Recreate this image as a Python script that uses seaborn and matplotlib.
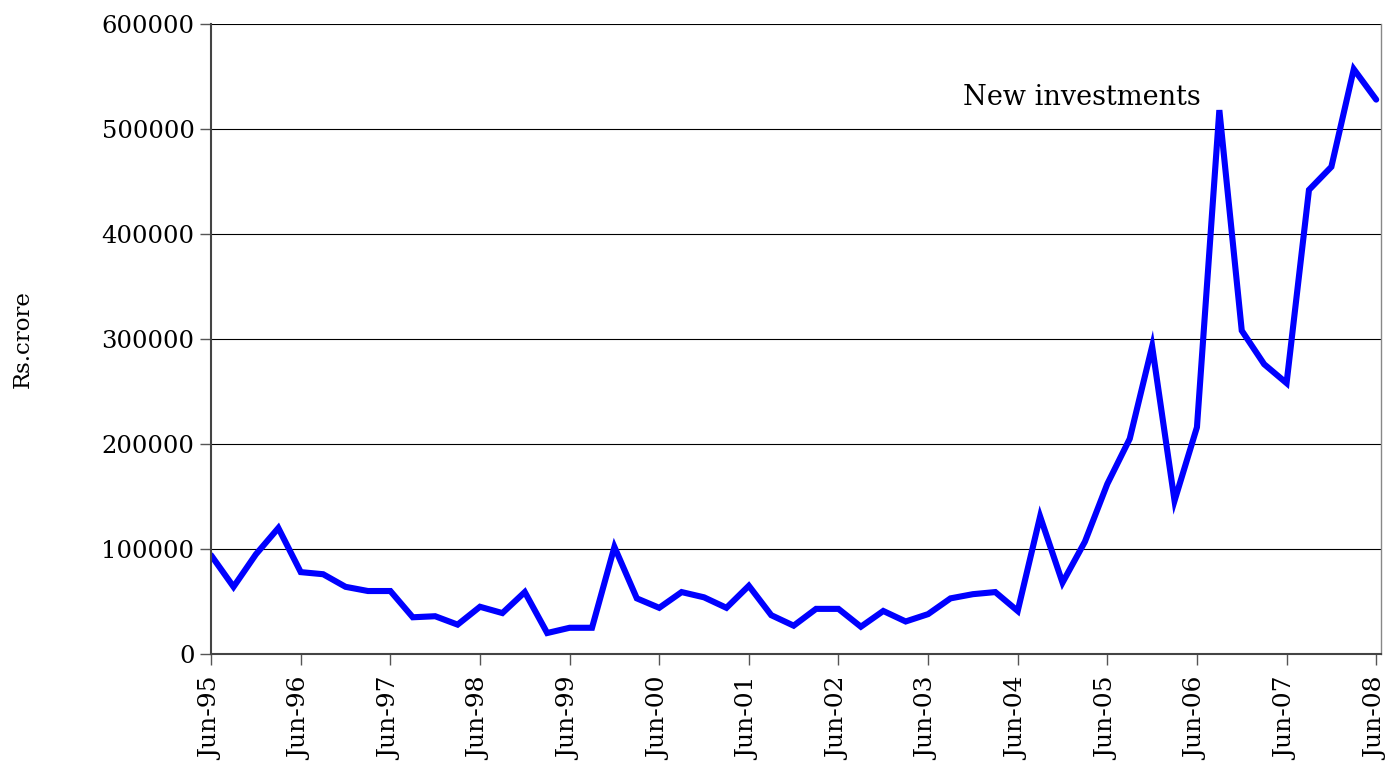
import numpy as np
import pandas as pd
import matplotlib
matplotlib.use("Agg")
import matplotlib.pyplot as plt
import seaborn as sns

# quarterly figures, Jun-95 .. Jun-08 (Rs. crore)
new_investments = [
    94000, 64000, 95000, 120000, 78000, 76000, 64000, 60000, 60000, 35000,
    36000, 28000, 45000, 39000, 59000, 20000, 25000, 25000, 102000, 53000,
    44000, 59000, 54000, 44000, 65000, 37000, 27000, 43000, 43000, 26000,
    41000, 31000, 38000, 53000, 57000, 59000, 41000, 131000, 68000, 107000,
    162000, 205000, 293000, 146000, 216000, 518000, 308000, 276000, 258000, 442000,
    464000, 557000, 528000,
]
year_labels = ["Jun-95", "Jun-96", "Jun-97", "Jun-98", "Jun-99", "Jun-00", "Jun-01",
               "Jun-02", "Jun-03", "Jun-04", "Jun-05", "Jun-06", "Jun-07", "Jun-08"]
y_ticks = [0, 100000, 200000, 300000, 400000, 500000, 600000]

df = pd.DataFrame({"q": np.arange(len(new_investments)), "value": new_investments})

sns.set_theme(style="white")
plt.rcParams["font.family"] = ["DejaVu Serif"]
plt.rcParams["text.color"] = "black"
plt.rcParams["axes.labelcolor"] = "black"
plt.rcParams["xtick.color"] = "black"
plt.rcParams["ytick.color"] = "black"

fig = plt.figure(figsize=(13.89, 7.62), dpi=100)
ax = fig.add_axes([0.152, 0.1417, 0.842, 0.8268])

sns.lineplot(data=df, x="q", y="value", color="#0000FF", linewidth=4.4, ax=ax,
             solid_joinstyle="miter")

ax.set_xlim(0, 52.2)
ax.set_ylim(0, 600000)
ax.set_yticks(y_ticks)
ax.set_yticklabels([str(v) for v in y_ticks], fontsize=17.5)
ax.set_xticks(np.arange(0, 53, 4))
ax.set_xticklabels(year_labels, rotation=90, fontsize=18)
ax.tick_params(axis="both", direction="out", length=8, width=1, color="#555555",
               bottom=True, left=True, pad=4)
ax.tick_params(axis="x", pad=9)
ax.yaxis.grid(True, color="black", linewidth=0.8)
ax.set_axisbelow(True)
for side, sp in ax.spines.items():
    sp.set_visible(True)
    sp.set_linewidth(1.5 if side in ("left", "bottom") else 1.0)
    sp.set_color("#444444" if side in ("left", "bottom") else "#888888")
ax.spines["top"].set_visible(False)

ax.set_xlabel("")
ax.set_ylabel("Rs.crore", fontsize=16.5)
ax.yaxis.set_label_coords(-0.152, 0.5)

ax.text(44.15, 530000, "New investments", fontsize=19.5, ha="right", va="center")

fig.savefig("out.png", dpi=100)
